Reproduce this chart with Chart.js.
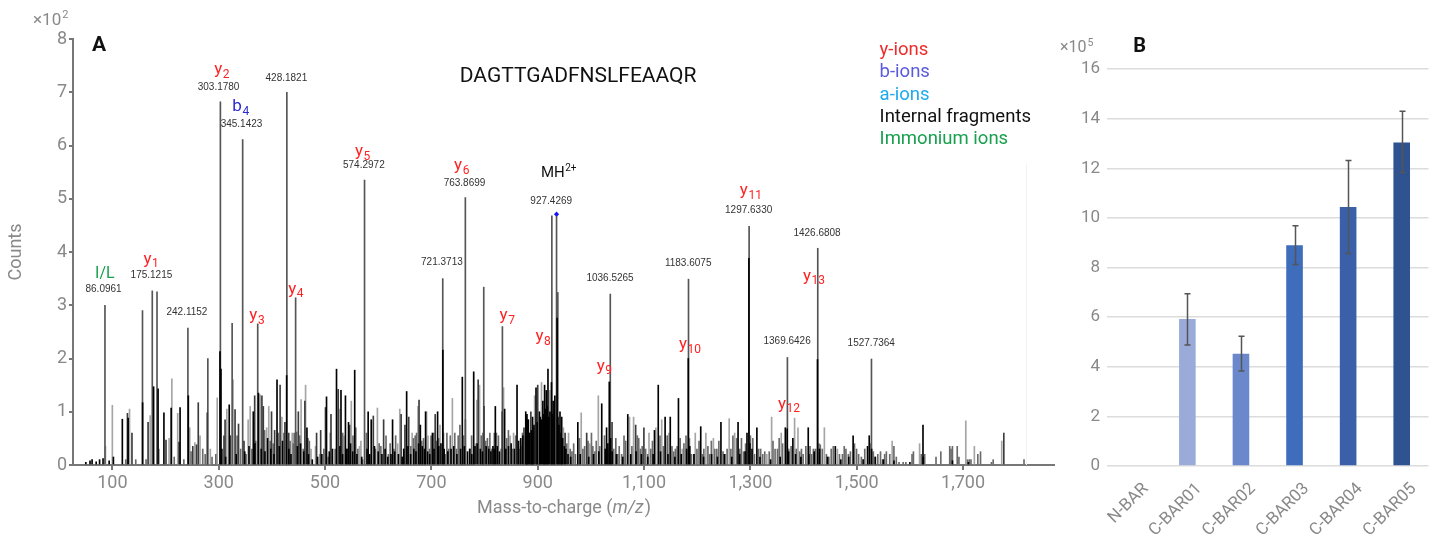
<!DOCTYPE html>
<html><head><meta charset="utf-8">
<script src="https://cdn.jsdelivr.net/npm/chart.js@4.4.1/dist/chart.umd.min.js"></script>
<style>
html,body{margin:0;padding:0;background:#fff;width:1440px;height:537px;overflow:hidden}
#a{position:absolute;left:0;top:0}
#b{position:absolute;left:1058px;top:0}
</style></head><body>
<canvas id="a" width="1058" height="537"></canvas>
<canvas id="b" width="382" height="537"></canvas>
<script>
// ---------------- Panel A data (m/z, counts x10^2) ----------------
const xTicks = [100,300,500,700,900,1100,1300,1500,1700];
const yTicksA = [0,1,2,3,4,5,6,7,8];

const peaksTall = [[86.1,3.0],[156.7,2.9],[175.1,3.27],[184,3.25],[242.1,2.57],[279.6,2.0],[303.2,6.82],[325.3,2.66],[345.1,6.11],[373.4,2.65],[428.2,7.0],[444.7,3.14],[574.3,5.35],[721.4,3.5],[763.9,5.02],[798.5,3.34],[833.6,2.6],[926.6,4.68],[935.4,4.71],[937.8,3.24],[1036.5,3.21],[1183.6,3.49],[1297.6,4.48],[1369.6,2.02],[1426.7,4.07],[1527.7,1.99]];

const peaksBlack = [[50.2,0.05],[58,0.08],[61.9,0.1],[69.6,0.06],[76,0.1],[82.5,0.12],[94,0.08],[102,0.15],[118.8,0.86],[129.7,0.88],[156.9,1.17],[177.6,1.47],[186,1.43],[197,0.98],[210.6,1.07],[227.4,1.08],[242.9,1.3],[302.4,2.13],[304.3,1.8],[319.8,1.13],[365.1,1.0],[374.8,1.35],[409.7,1.6],[427.8,1.68],[466,0.7],[502.8,1.28],[521.6,1.8],[530,1.4],[538.4,1.3],[544.2,0.8],[555.8,1.78],[581.1,1.0],[586.9,0.85],[627,0.85],[653.5,1.38],[679.3,0.75],[689.1,1.0],[702,0.6],[711.7,1.0],[721.6,2.16],[758.2,1.65],[779.6,1.75],[815.8,0.35],[820.3,1.1],[837.8,1.05],[861.1,1.5],[877.9,0.9],[879.8,0.95],[882.4,0.85],[890.8,0.7],[877.5,1.0],[880.7,0.85],[890.3,0.9],[896.8,1.45],[903.2,1.0],[909.7,1.2],[912.9,1.5],[916.1,1.4],[919.3,1.8],[925.8,1.55],[929,1.2],[932.2,1.3],[936.5,2.76],[941.9,1.0],[945.1,0.9],[975.4,0.8],[1020.4,1.15],[1029.5,0.7],[1034.6,1.56],[1037.2,0.5],[1069.4,0.95],[1119.6,0.65],[1126.7,1.5],[1139.6,0.9],[1149.3,0.9],[1164.7,1.25],[1183.2,2.0],[1206.6,0.72],[1244.6,0.8],[1276.8,0.8],[1293.6,0.6],[1297.2,3.88],[1312.2,0.7],[1365.7,0.7],[1369.2,0.68],[1379.9,0.5],[1408.8,0.7],[1426.2,1.98],[1459.7,0.35],[1493.2,0.55],[1520.3,0.35],[1523.5,0.55],[1624.6,0.75],
[306,0.3],[313,0.15],[333,0.2],[349,0.25],[357,0.35],[368,0.4],[380,0.3],[387,0.25],[392,0.5],[398,0.3],[404,0.2],[414,0.35],[420,0.45],[432,0.3],[436,0.2],[448,0.35],[454,0.4],[460,0.25],[469,0.2],[476,0.1],[486,0.15],[494,0.2],[508,0.25],[514,0.3],[528,0.35],[533,0.2],[541,0.3],[548,0.4],[552,0.25],[560,0.2],[569,0.15],[579,0.3],[584,0.2],[593,0.35],[600,0.25],[607,0.2],[613,0.3],[618,0.15],[624,0.2],[631,0.25],[638,0.2],[645,0.15],[648,0.3],[656,0.35],[661,0.2],[667,0.3],[671,0.25],[676,0.4],[683,0.35],[687,0.3],[693,0.25],[697,0.2],[705,0.3],[714,0.35],[718,0.4],[724,0.3],[731,0.25],[737,0.3],[742,0.35],[748,0.2],[755,0.3],[762,0.35],[768,0.25],[772,0.3],[776,0.2],[782,0.35],[786,0.4],[792,0.3],[796,0.25],[803,0.35],[808,0.3],[812,0.25],[818,0.3],[824,0.35],[828,0.25],[840,0.3],[845,0.35],[850,0.4],[856,0.3],[864,0.45],[868,0.5],[872,0.55],[885,0.6],[888,0.65],[893,0.75],[899,0.8],[905,0.9],[907,0.85],[911,0.95],[914,1.05],[918,1.1],[921,0.9],[923,1.0],[927,0.95],[931,0.85],[938,0.9],[940,0.75],[944,0.6],[947,0.5],[950,0.35],[953,0.3],[957,0.2],[962,0.15],[980,0.2],[996,0.15],[1005,0.2],[1015,0.25],[1027,0.3],[1032,0.4],[1040,0.25],[1048,0.2],[1060,0.15],[1075,0.2],[1085,0.25],[1095,0.2],[1107,0.15],[1117,0.2],[1131,0.25],[1145,0.2],[1158,0.15],[1170,0.2],[1180,0.3],[1186,0.35],[1194,0.2],[1212,0.15],[1227,0.2],[1238,0.15],[1251,0.2],[1265,0.15],[1280,0.2],[1290,0.25],[1299,0.4],[1303,0.3],[1318,0.15],[1338,0.1],[1356,0.15],[1372,0.25],[1385,0.2],[1395,0.15],[1410,0.2],[1420,0.25],[1430,0.3],[1445,0.15],[1470,0.1],[1485,0.15],[1512,0.1],[1528,0.3],[1535,0.15],[1550,0.1],[1570,0.08],[1600,0.05],[1625,0.15],[1680,0.08],[1710,0.05]];

const peaksDark = [[128.4,0.97],[136.9,0.6],[167.2,0.8],[200.9,0.47],[225.4,0.43],[251.3,0.35],[258.4,0.38],[261.6,1.17],[278.5,0.98],[310,0.55],[312,0.85],[321.8,0.55],[330.8,1.04],[337.3,0.77],[347.6,0.45],[367.7,1.3],[381.3,1.3],[383.9,1.1],[399.4,1.0],[405.2,0.65],[415.5,1.5],[424.6,0.8],[431.7,0.6],[449.8,1.0],[462.1,1.2],[484.1,0.6],[491.8,0.65],[500.9,1.08],[511.2,0.95],[524.8,1.42],[546.2,0.75],[590.8,0.92],[610.2,0.85],[643.1,0.95],[650.3,0.75],[657.4,0.9],[676.8,1.22],[707.2,0.95],[788,1.6],[799,1.1],[833.2,1.0],[874.2,0.7],[887.1,1.0],[900,1.5],[951.5,0.6],[992.1,0.6],[1039.8,0.8],[1084.2,0.75],[1099.7,0.7],[1776.6,0.6]];

const peaksMid = [[125.2,0.1],[144,0.1],[163.4,0.1],[216.4,0.15],[234.5,0.1],[248,0.25],[270,0.3],[274.6,0.2],[287.5,0.15],[294.6,0.2],[334.7,0.55],[341.2,0.3],[351.5,0.2],[362.5,0.3],[369.6,0.45],[386.4,0.65],[396.8,0.45],[402.6,0.4],[412.3,0.6],[422.7,0.6],[434.3,0.45],[440.1,0.4],[442,0.6],[446.6,0.62],[452.4,0.55],[458.9,0.3],[467.9,0.5],[470.5,0.45],[497.7,0.3],[506.1,0.15],[510,0.6],[519,0.3],[533.2,0.6],[541.6,0.3],[552.6,0.55],[557.8,0.7],[561.7,0.3],[570.7,0.1],[577.8,0.6],[594.7,0.3],[601.8,0.4],[605,0.35],[614.7,0.55],[619.2,0.2],[622.5,0.4],[629.6,0.3],[632.8,0.55],[645.7,0.15],[648.3,0.3],[661.3,0.35],[666.4,0.5],[669.6,0.55],[672.2,0.6],[681.9,0.45],[685.2,0.5],[696.8,0.3],[699.4,0.55],[704.6,0.6],[709.7,0.45],[713.6,0.5],[722.7,0.6],[726.6,0.2],[729.2,0.6],[732.4,0.3],[735.6,0.55],[744,0.6],[747.2,0.3],[750.5,0.55],[753.7,0.75],[760.8,0.55],[764,0.85],[773,0.3],[775.7,0.55],[793.8,0.55],[797,0.6],[802.2,0.45],[805.4,0.5],[807.4,0.35],[810,0.6],[813.2,0.3],[818.4,0.6],[822.3,0.6],[826.1,0.55],[831.3,0.3],[841.7,0.5],[844.9,0.65],[852,0.3],[858.5,0.55],[864.9,0.3],[868.8,0.35],[871.4,0.6],[883.9,0.6],[954.7,0.4],[961.2,0.3],[964.4,0.25],[967.6,0.4],[970.9,0.2],[978.6,0.5],[985,0.3],[988.2,0.35],[994.7,0.45],[1001.1,0.6],[1003.7,0.35],[1007.6,0.25],[1010.1,0.45],[1016.6,0.35],[1025.6,0.55],[1032,0.3],[1043,0.3],[1046.9,0.5],[1050.7,0.2],[1053.3,0.35],[1057.8,0.2],[1062.3,0.55],[1065.5,0.45],[1077.1,0.35],[1087.4,0.55],[1090,0.5],[1093.2,0.3],[1096.5,0.35],[1102.9,0.3],[1106.8,0.2],[1112.6,0.3],[1115.8,0.45],[1129.9,0.55],[1136.4,0.35],[1143.5,0.55],[1152.5,0.35],[1155.7,0.25],[1158.9,0.3],[1162.2,0.35],[1167.9,0.5],[1175,0.4],[1178.9,0.55],[1185.3,0.5],[1188.6,0.2],[1193.1,0.2],[1199.5,0.3],[1203.4,0.45],[1209.8,0.2],[1212.4,0.3],[1220.1,0.35],[1223.3,0.2],[1226.6,0.45],[1233,0.3],[1236.9,0.3],[1240.7,0.45],[1248.5,0.25],[1252.3,0.2],[1256.2,0.3],[1263.3,0.3],[1267.1,0.55],[1274.2,0.5],[1280,0.3],[1283.2,0.5],[1287.1,0.25],[1291,0.4],[1300,0.55],[1304.5,0.5],[1307.7,0.2],[1315.4,0.3],[1319.3,0.3],[1323.2,0.2],[1327,0.25],[1335.4,0.25],[1342.5,0.45],[1346.4,0.3],[1350.9,0.3],[1354.1,0.5],[1360.5,0.4],[1372.1,0.3],[1376.6,0.35],[1386.3,0.3],[1392.7,0.25],[1396,0.3],[1399.2,0.2],[1404.3,0.35],[1412.1,0.35],[1415.3,0.2],[1418.5,0.3],[1422.4,0.3],[1428.8,0.4],[1431.4,0.38],[1435.2,0.3],[1443,0.2],[1447.5,0.15],[1452,0.3],[1455.9,0.35],[1467.5,0.2],[1473.2,0.2],[1476.5,0.35],[1479.7,0.3],[1484.2,0.2],[1488.1,0.25],[1495.8,0.4],[1499.7,0.3],[1503.5,0.2],[1508.7,0.15],[1515.1,0.3],[1526.7,0.4],[1531.2,0.25],[1534.4,0.15],[1539.6,0.2],[1544.7,0.25],[1548.6,0.1],[1552.5,0.2],[1555.7,0.25],[1562.1,0.2],[1569.9,0.35],[1574.4,0.15],[1579.5,0.05],[1587.3,0.05],[1592.4,0.05],[1604,0.2],[1606.6,0.25],[1621.4,0.2],[1627.8,0.2],[1649.1,0.15],[1658.1,0.25],[1674.9,0.35],[1677.4,0.3],[1680,0.35],[1689,0.35],[1692.2,0.15],[1708.3,0.1],[1711.6,0.1],[1714.8,0.1],[1727.7,0.2],[1732.8,0.25],[1753.3,0.05],[1756.6,0.1],[1814.6,0.1]];

const peaksGray = [[87,0.35],[100,1.12],[132.3,1.05],[171.1,0.93],[188,0.3],[206.7,0.5],[211.9,1.62],[222.9,0.97],[245.5,0.7],[255.2,0.42],[264.9,0.55],[284.3,0.3],[297.2,1.26],[315.3,1.05],[327,1.6],[355.4,0.85],[359.3,1.1],[378,1.32],[390.3,0.7],[394.2,1.1],[418.8,0.9],[438.2,0.6],[455,1.23],[463.4,1.5],[473.7,0.3],[482.1,0.35],[489.9,0.2],[526.8,1.05],[535.8,0.55],[549.4,1.2],[564.9,0.35],[567.5,0.45],[598.5,1.07],[636.7,0.4],[640.6,1.05],[663.8,0.6],[674.8,1.1],[691,1.0],[693.6,0.55],[716.2,0.75],[739.5,1.25],[783.5,0.4],[785.4,1.22],[790.6,1.5],[835.8,1.45],[848.1,0.55],[854.6,0.6],[871,0.45],[894.2,1.3],[907.1,1.55],[922.5,1.4],[948.3,0.7],[958,0.6],[981.8,0.98],[997.9,0.4],[1014,1.3],[1072.6,0.9],[1080.3,0.9],[1109.3,0.6],[1122.2,0.7],[1133.2,0.85],[1146.7,0.6],[1171.8,0.3],[1196.3,0.6],[1216.3,0.6],[1230.4,0.5],[1260.1,0.87],[1270.4,0.6],[1330.9,0.2],[1339.9,0.9],[1358,0.6],[1383.1,0.88],[1389.5,0.7],[1439.1,0.7],[1463.6,0.3],[1566.6,0.45],[1618.2,0.4],[1705.1,0.83],[1721.2,0.35],[1772.7,0.45]];

const precursorPeak = [935.4, 4.71];

// annotations: [main, sub, m/z anchor, counts anchor, ion type]
const ionLabels = [['I/L','',86,3.58,'imm'],['y','1',172.3,3.86,'y'],['y','2',305.4,7.42,'y'],['b','4',341,6.72,'b'],['y','3',371.6,2.80,'y'],['y','4',444.7,3.30,'y'],['y','5',570.3,5.88,'y'],['y','6',756.7,5.62,'y'],['y','7',842.2,2.80,'y'],['y','8',909.7,2.41,'y'],['y','9',1024.8,1.85,'y'],['y','10',1186,2.25,'y'],['y','11',1300.4,5.15,'y'],['y','12',1372,1.14,'y'],['y','13',1419,3.54,'y']];
const mzLabels = [['86.0961',83.5,3.30],['175.1215',173.5,3.56],['242.1152',240.3,2.86],['303.1780',299.8,7.10],['345.1423',342.9,6.39],['428.1821',427.3,7.27],['574.2972',573,5.63],['721.3713',719.8,3.80],['763.8699',762.3,5.30],['927.4269',925.4,4.96],['1036.5265',1036,3.50],['1183.6075',1183,3.79],['1297.6330',1296.7,4.78],['1369.6426',1369,2.33],['1426.6808',1425.3,4.36],['1527.7364',1527.3,2.29]];
const precursorLabel = ['MH','2+',939,5.48];
const sequenceText = ['DAGTTGADFNSLFEAAQR',976,7.30];
const legendItems = [['y-ions','y'],['b-ions','b'],['a-ions','a'],['Internal fragments','int'],['Immonium ions','imm']];
const legendAnchor = [1543, 7.79, 0.42];

// ---------------- Panel B data (x10^5) ----------------
const barCategories = ['N-BAR','C-BAR01','C-BAR02','C-BAR03','C-BAR04','C-BAR05'];
const barValues = [0, 5.92, 4.52, 8.9, 10.44, 13.04];
const errLow = [null, 4.88, 3.83, 8.12, 8.56, 11.83];
const errHigh = [null, 6.94, 5.23, 9.68, 12.31, 14.3];
const yTicksB = [0,2,4,6,8,10,12,14,16];

// ---------------- styles ----------------
const ionColors = {y:'#ff2222', b:'#2b2bd0', a:'#1fa9ee', int:'#111111', imm:'#17a04d'};
const legendColors = {y:'#ee2a2a', b:'#5a5ade', a:'#1fa9ee', int:'#111111', imm:'#17a04d'};
const barColors = ['#9aabd9','#9aabd9','#6b88cc','#3e6dbc','#3960a9','#2f5291'];
const AX = '#898989';
const toXY = arr => arr.map(p => ({x:p[0], y:p[1]}));

const annotA = {
  id:'annotA',
  afterDatasetsDraw(chart){
    const {ctx, scales:{x,y}, chartArea:ca} = chart;
    ctx.save();
    ctx.strokeStyle = '#f2f2f2'; ctx.lineWidth = 1;
    ctx.beginPath(); ctx.moveTo(Math.round(x.getPixelForValue(1818))+0.5, y.getPixelForValue(5.66)); ctx.lineTo(Math.round(x.getPixelForValue(1818))+0.5, y.getPixelForValue(0)); ctx.stroke();
    ctx.textBaseline = 'middle';
    ctx.font = '10px "Liberation Sans", Arial, sans-serif';
    ctx.fillStyle = '#333'; ctx.textAlign = 'center';
    mzLabels.forEach(l => ctx.fillText(l[0], x.getPixelForValue(l[1]), y.getPixelForValue(l[2])));
    ctx.textAlign = 'left';
    ionLabels.forEach(l => {
      const px = x.getPixelForValue(l[2]), py = y.getPixelForValue(l[3]);
      ctx.fillStyle = ionColors[l[4]];
      if (l[4] === 'imm') {
        ctx.font = '16px Roboto'; const w = ctx.measureText(l[0]).width;
        ctx.fillText(l[0], px - w/2, py);
        return;
      }
      ctx.font = '17px Roboto'; const w1 = ctx.measureText(l[0]).width;
      ctx.font = '12px Roboto'; const w2 = ctx.measureText(l[1]).width;
      const sx = px - (w1+w2)/2;
      ctx.font = '17px Roboto'; ctx.fillText(l[0], sx, py);
      ctx.font = '12px Roboto'; ctx.fillText(l[1], sx + w1 + 0.5, py + 5);
    });
    {
      const px = x.getPixelForValue(precursorLabel[2]), py = y.getPixelForValue(precursorLabel[3]);
      ctx.fillStyle = '#111';
      ctx.font = '15px Roboto'; const w1 = ctx.measureText(precursorLabel[0]).width;
      ctx.font = '10px Roboto'; const w2 = ctx.measureText(precursorLabel[1]).width;
      const sx = px - (w1+w2)/2;
      ctx.font = '15px Roboto'; ctx.fillText(precursorLabel[0], sx, py);
      ctx.font = '10px Roboto'; ctx.fillText(precursorLabel[1], sx + w1 + 0.5, py - 5);
    }
    ctx.font = '21px Roboto'; ctx.fillStyle = '#111'; ctx.textAlign = 'center';
    ctx.fillText(sequenceText[0], x.getPixelForValue(sequenceText[1]), y.getPixelForValue(sequenceText[2]));
    ctx.font = '18.5px Roboto'; ctx.textAlign = 'left';
    legendItems.forEach((it, i) => {
      ctx.fillStyle = legendColors[it[1]];
      ctx.fillText(it[0], x.getPixelForValue(legendAnchor[0]), y.getPixelForValue(legendAnchor[1] - i*legendAnchor[2]));
    });
    ctx.font = 'bold 21px Roboto'; ctx.fillStyle = '#111'; ctx.textAlign = 'center';
    ctx.fillText('A', ca.left + 26, ca.top + 7);
    ctx.fillStyle = AX; ctx.textAlign = 'left'; ctx.textBaseline = 'alphabetic';
    ctx.font = '17px Roboto'; ctx.fillText('\u00d710', 33, 24.5);
    const wE = ctx.measureText('\u00d710').width;
    ctx.font = '11px Roboto'; ctx.fillText('2', 33 + wE + 1, 17.5);
    ctx.textBaseline = 'middle';
    const t1 = 'Mass-to-charge (', t3 = ')';
    ctx.font = '18px Roboto'; const w1 = ctx.measureText(t1).width, w3 = ctx.measureText(t3).width;
    ctx.font = 'italic 18px Roboto'; const w2 = ctx.measureText('m/z').width;
    let sx = (ca.left + ca.right)/2 - (w1+w2+w3)/2; const ty = ca.bottom + 43;
    ctx.font = '18px Roboto'; ctx.fillText(t1, sx, ty);
    ctx.font = 'italic 18px Roboto'; ctx.fillText('m/z', sx + w1, ty);
    ctx.font = '18px Roboto'; ctx.fillText(t3, sx + w1 + w2 + 1, ty);
    ctx.save(); ctx.translate(16, (ca.top + ca.bottom)/2); ctx.rotate(-Math.PI/2);
    ctx.textAlign = 'center'; ctx.fillText('Counts', 0, 0); ctx.restore();
    ctx.restore();
  }
};

const barDs = (arr, color) => ({data: toXY(arr), backgroundColor: color, borderWidth: 0, barThickness: 1, grouped: false});

new Chart(document.getElementById('a'), {
  type: 'bar',
  data: { datasets: [
    barDs(peaksBlack, '#000000'),
    barDs(peaksDark, '#3c3c3c'),
    barDs(peaksTall, '#555555'),
    barDs(peaksMid, '#6a6a6a'),
    barDs(peaksGray, '#a5a5a5'),
    {type:'scatter', data:[{x:precursorPeak[0], y:precursorPeak[1]}], pointStyle:'rectRot', pointRadius:2.6, backgroundColor:'#1414ff', borderColor:'#1414ff', borderWidth:0}
  ].map((d,i)=>Object.assign(d,{order: i===5 ? -1 : i})) },
  options: {
    responsive:false, animation:false, devicePixelRatio:1,
    layout:{padding:{top:39, right:1, left:0, bottom:0}},
    plugins:{legend:{display:false}, tooltip:{enabled:false}},
    scales:{
      x:{type:'linear', min:26, max:1871, offset:false,
        afterBuildTicks: s => { s.ticks = xTicks.map(v => ({value:v})); },
        afterFit: s => { s.height = 72; },
        grid:{display:true, offset:false, drawOnChartArea:false, drawTicks:true, tickLength:5, tickColor:'#777', lineWidth:2},
        border:{display:true, color:'#777', width:2},
        ticks:{font:{family:'Roboto', size:18}, color:AX, padding:3, autoSkip:false, maxRotation:0, callback: v => Number(v).toLocaleString('en-US')}
      },
      y:{min:0, max:8,
        afterBuildTicks: s => { s.ticks = yTicksA.map(v => ({value:v})); },
        afterFit: s => { s.width = 73; },
        grid:{display:true, drawOnChartArea:false, drawTicks:true, tickLength:4, tickColor:'#777', lineWidth:2},
        border:{display:true, color:'#777', width:2},
        ticks:{font:{family:'Roboto', size:18}, color:AX, padding:2}
      }
    }
  },
  plugins:[annotA]
});

const errPlugin = {
  id:'errB',
  afterDatasetsDraw(chart){
    const {ctx, scales:{y}} = chart;
    const meta = chart.getDatasetMeta(0);
    ctx.save();
    ctx.strokeStyle = '#555'; ctx.lineWidth = 1.5;
    meta.data.forEach((bar, i) => {
      if (errHigh[i] == null) return;
      const xp = Math.round(bar.x) + 0.5, yt = y.getPixelForValue(errHigh[i]), yb = y.getPixelForValue(errLow[i]);
      ctx.beginPath();
      ctx.moveTo(xp, yt); ctx.lineTo(xp, yb);
      ctx.moveTo(xp-3, yt); ctx.lineTo(xp+3, yt);
      ctx.moveTo(xp-3, yb); ctx.lineTo(xp+3, yb);
      ctx.stroke();
    });
    const ca = chart.chartArea;
    ctx.font = 'bold 20px Roboto'; ctx.fillStyle = '#111'; ctx.textAlign = 'center'; ctx.textBaseline = 'middle';
    ctx.fillText('B', ca.left + 32.7, 46.5);
    ctx.fillStyle = AX; ctx.textAlign = 'left'; ctx.textBaseline = 'alphabetic';
    ctx.font = '16px Roboto'; ctx.fillText('\u00d710', 2, 52);
    const w = ctx.measureText('\u00d710').width;
    ctx.font = '10.5px Roboto'; ctx.fillText('5', 2 + w + 1, 46);
    ctx.restore();
  }
};

new Chart(document.getElementById('b'), {
  type:'bar',
  data:{labels: barCategories, datasets:[{data: barValues, backgroundColor: barColors, borderWidth:0, categoryPercentage:1, barPercentage:0.31}]},
  options:{
    responsive:false, animation:false, devicePixelRatio:1,
    layout:{padding:{top:69, right:11.5, left:0, bottom:0}},
    plugins:{legend:{display:false}, tooltip:{enabled:false}},
    scales:{
      x:{grid:{display:false}, border:{display:false},
        afterFit: s => { s.height = 71; },
        ticks:{font:{family:'Roboto', size:17}, color:AX, maxRotation:45, minRotation:45, autoSkip:false, padding:5, labelOffset:12}},
      y:{min:0, max:16,
        afterBuildTicks: s => { s.ticks = yTicksB.map(v => ({value:v})); },
        afterFit: s => { s.width = 49; },
        grid:{color:'#dcdcdc', lineWidth:1.5, drawTicks:false},
        border:{display:false},
        ticks:{font:{family:'Roboto', size:17}, color:AX, padding:7}}
    }
  },
  plugins:[errPlugin]
});
</script>
</body></html>
